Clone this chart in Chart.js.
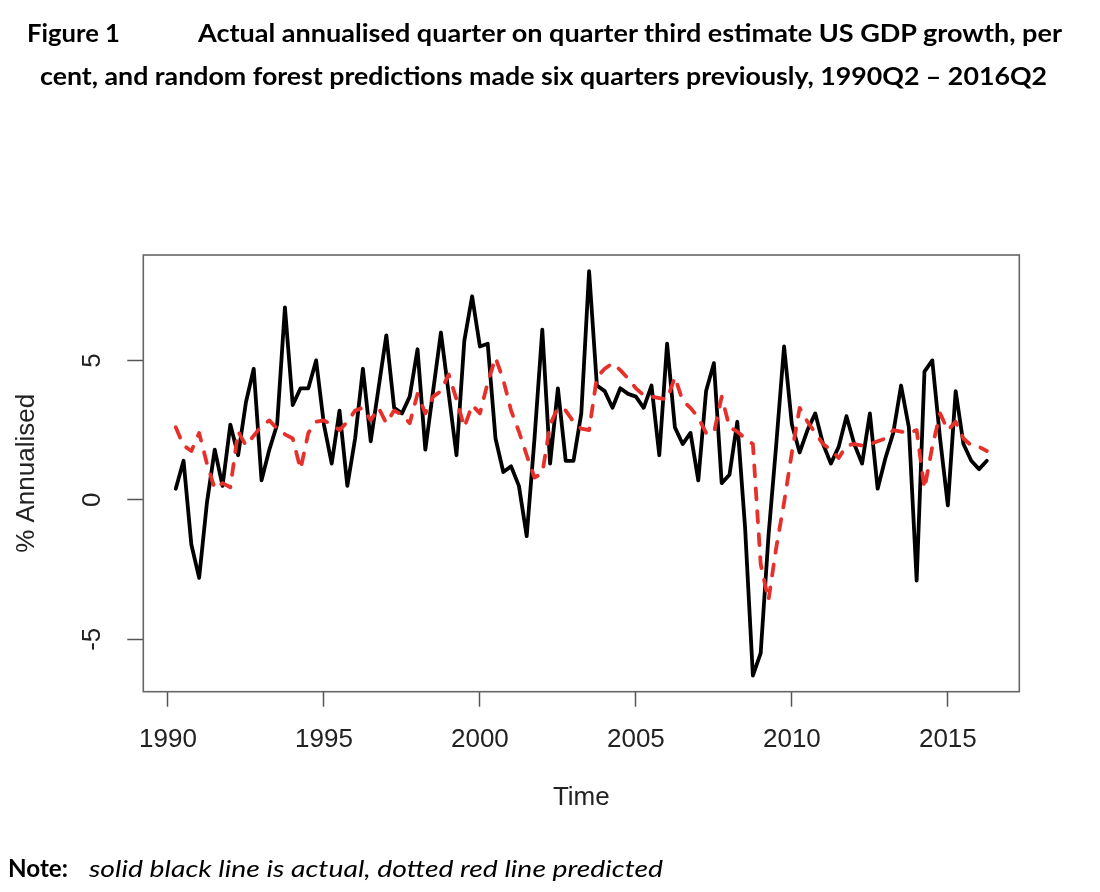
<!DOCTYPE html>
<html>
<head>
<meta charset="utf-8">
<script src="https://cdn.jsdelivr.net/npm/chart.js@4.4.1/dist/chart.umd.min.js"></script>
<style>
  html, body { margin: 0; padding: 0; background: #fff; }
  #wrap { position: relative; width: 1100px; height: 892px; overflow: hidden; }
  #c { position: absolute; left: 0; top: 0; }
  #txt { position: absolute; left: 0; top: 0; pointer-events: none; }
  .t { font-family: Lato, "Open Sans", "DejaVu Sans", sans-serif; fill: #000; }
</style>
</head>
<body>
<div id="wrap">
  <canvas id="c" width="1100" height="892"></canvas>
  <svg id="txt" width="1100" height="892" xmlns="http://www.w3.org/2000/svg">
    <text class="t" x="27" y="42" font-size="25" font-weight="bold" textLength="93" lengthAdjust="spacingAndGlyphs">Figure 1</text>
    <text class="t" x="198" y="42" font-size="25" font-weight="bold" textLength="864" lengthAdjust="spacingAndGlyphs">Actual annualised quarter on quarter third estimate US GDP growth, per</text>
    <text class="t" x="40" y="85" font-size="25" font-weight="bold" textLength="1007" lengthAdjust="spacingAndGlyphs">cent, and random forest predictions made six quarters previously, 1990Q2 – 2016Q2</text>
    <text class="t" x="8" y="877" font-size="24" font-weight="bold" textLength="60" lengthAdjust="spacingAndGlyphs">Note:</text>
    <text class="t" x="89" y="877" font-size="24" font-style="italic" textLength="574" lengthAdjust="spacingAndGlyphs">solid black line is actual, dotted red line predicted</text>
  </svg>
</div>
<script>
// ---- Data (annualised quarter-on-quarter US GDP growth, %) ----
const firstQuarter = { year: 1990, q: 2 };
const lastQuarter = { year: 2016, q: 2 };

const actual = [
  0.4, 1.4, -1.6,
  -2.8, -0.1, 1.8, 0.5,
  2.7, 1.6, 3.5, 4.7,
  0.7, 1.8, 2.7, 6.9,
  3.4, 4.0, 4.0, 5.0,
  2.7, 1.3, 3.2, 0.5,
  2.2, 4.7, 2.1, 4.0,
  5.9, 3.3, 3.1, 3.7,
  5.4, 1.8, 3.9, 6.0,
  3.8, 1.6, 5.7, 7.3,
  5.5, 5.6, 2.2, 1.0,
  1.2, 0.5, -1.3, 2.2,
  6.1, 1.3, 4.0, 1.4,
  1.4, 3.1, 8.2, 4.1,
  3.9, 3.3, 4.0, 3.8,
  3.7, 3.3, 4.1, 1.6,
  5.6, 2.6, 2.0, 2.4,
  0.7, 3.9, 4.9, 0.6,
  0.9, 2.8, -1.0, -6.3,
  -5.5, -1.3, 2.0, 5.5,
  2.7, 1.7, 2.5, 3.1,
  2.0, 1.3, 1.9, 3.0,
  2.0, 1.3, 3.1, 0.4,
  1.5, 2.4, 4.1, 2.6,
  -2.9, 4.6, 5.0, 2.2,
  -0.2, 3.9, 2.0, 1.4,
  1.1, 1.4
];

const predicted = [
  2.6, 1.95, 1.75,
  2.4, 1.3, 0.4, 0.6,
  0.45, 2.45, 1.95, 2.3,
  2.65, 2.85, 2.55, 2.35,
  2.2, 1.1, 2.4, 2.8,
  2.85, 2.7, 2.5, 2.8,
  3.2, 3.3, 2.85, 3.3,
  2.75, 3.2, 3.05, 2.75,
  3.8, 3.1, 3.7, 3.9,
  4.5, 3.6, 2.6, 3.4,
  3.1, 4.2, 5.1, 4.3,
  3.2, 2.45, 1.6, 0.8,
  0.95, 2.7, 3.3, 3.2,
  2.8, 2.55, 2.5, 4.4,
  4.7, 4.9, 4.65, 4.35,
  4.0, 3.75, 3.7, 3.65,
  3.6, 4.4, 3.55, 3.3,
  2.95, 2.4, 2.4, 3.7,
  2.6, 2.45, 2.2, 2.0,
  -2.3, -3.6, -1.7, -0.1,
  1.7, 3.3, 2.8, 2.4,
  2.0, 1.8, 1.5, 1.95,
  2.0, 1.95, 2.0, 2.1,
  2.2, 2.5, 2.45, 2.4,
  2.5, 0.4, 1.9, 3.1,
  2.5, 2.8, 2.2, 1.95,
  1.9, 1.75
];

const xTickValues = [1990, 1995, 2000, 2005, 2010, 2015];
const yTickValues = [-5, 0, 5];
const yTickLabels = ['-5', '0', '5'];

// Quarter categories -> time values (year + (q-1)/4), as R's ts() does
const quarterLabels = [];
const quarterTimes = [];
for (let y = firstQuarter.year, q = firstQuarter.q; y < lastQuarter.year || (y === lastQuarter.year && q <= lastQuarter.q); ) {
  quarterLabels.push(y + 'Q' + q);
  quarterTimes.push(y + (q - 1) / 4);
  q++; if (q > 4) { q = 1; y++; }
}

// R-style 4% axis extension
function extend(lo, hi) { const d = (hi - lo) * 0.04; return [lo - d, hi + d]; }
const [xMin, xMax] = extend(quarterTimes[0], quarterTimes[quarterTimes.length - 1]);
const allVals = actual.concat(predicted);
const [yMin, yMax] = extend(Math.min(...allVals), Math.max(...allVals));

const axisFont = { family: '"Liberation Sans", Arial, Helvetica, sans-serif', size: 26 };
const textColor = '#222';

const rBox = {
  id: 'rBox',
  afterDraw(chart) {
    const { ctx, chartArea: a } = chart;
    const ys = chart.scales.y;
    ctx.save();
    ctx.strokeStyle = '#666';
    ctx.lineWidth = 1.6;
    ctx.strokeRect(a.left, a.top, a.right - a.left, a.bottom - a.top);
    ctx.fillStyle = textColor;
    ctx.font = axisFont.size + 'px ' + axisFont.family;
    ctx.textAlign = 'center';
    ctx.textBaseline = 'middle';
    yTickValues.forEach((v, i) => {
      const py = ys.getPixelForValue(v);
      ctx.save();
      ctx.translate(a.left - 50, py);
      ctx.rotate(-Math.PI / 2);
      ctx.fillText(yTickLabels[i], 0, 0);
      ctx.restore();
    });
    ctx.restore();
  }
};

new Chart(document.getElementById('c'), {
  type: 'line',
  data: {
    datasets: [
      {
        label: 'Predicted',
        data: predicted.map((v, i) => ({ x: quarterTimes[i], y: v })),
        borderColor: '#e8302b',
        borderWidth: 3.8,
        borderDash: [11, 12],
        borderCapStyle: 'round',
        borderJoinStyle: 'round',
        pointRadius: 0,
        tension: 0,
        fill: false,
        order: 0
      },
      {
        label: 'Actual',
        data: actual.map((v, i) => ({ x: quarterTimes[i], y: v })),
        borderColor: '#000',
        borderWidth: 3.8,
        borderCapStyle: 'round',
        borderJoinStyle: 'round',
        pointRadius: 0,
        tension: 0,
        fill: false,
        order: 1
      }
    ]
  },
  options: {
    responsive: false,
    animation: false,
    devicePixelRatio: 1,
    layout: { padding: { left: 0, top: 255, right: 80.7, bottom: 78.3 } },
    plugins: { legend: { display: false }, tooltip: { enabled: false } },
    scales: {
      x: {
        type: 'linear',
        min: xMin,
        max: xMax,
        afterBuildTicks: s => { s.ticks = xTickValues.map(v => ({ value: v })); },
        afterFit: s => { s.height = 122; },
        border: { display: false },
        grid: { drawOnChartArea: false, drawTicks: true, tickLength: 15, tickWidth: 1.5, tickColor: '#555' },
        ticks: { autoSkip: false, maxRotation: 0, minRotation: 0, padding: 18, font: axisFont, color: textColor, callback: v => String(v) },
        title: { display: true, text: 'Time', font: axisFont, color: textColor, padding: { top: 0, bottom: 0 } }
      },
      y: {
        type: 'linear',
        min: yMin,
        max: yMax,
        afterBuildTicks: s => { s.ticks = yTickValues.map(v => ({ value: v })); },
        afterFit: s => { s.width = 143.3; },
        border: { display: false },
        grid: { drawOnChartArea: false, drawTicks: true, tickLength: 16, tickWidth: 1.5, tickColor: '#555' },
        ticks: { display: false },
        title: { display: true, text: '% Annualised', font: axisFont, color: textColor, padding: { top: 11.4, bottom: 0 } }
      }
    }
  },
  plugins: [rBox]
});
</script>
</body>
</html>
